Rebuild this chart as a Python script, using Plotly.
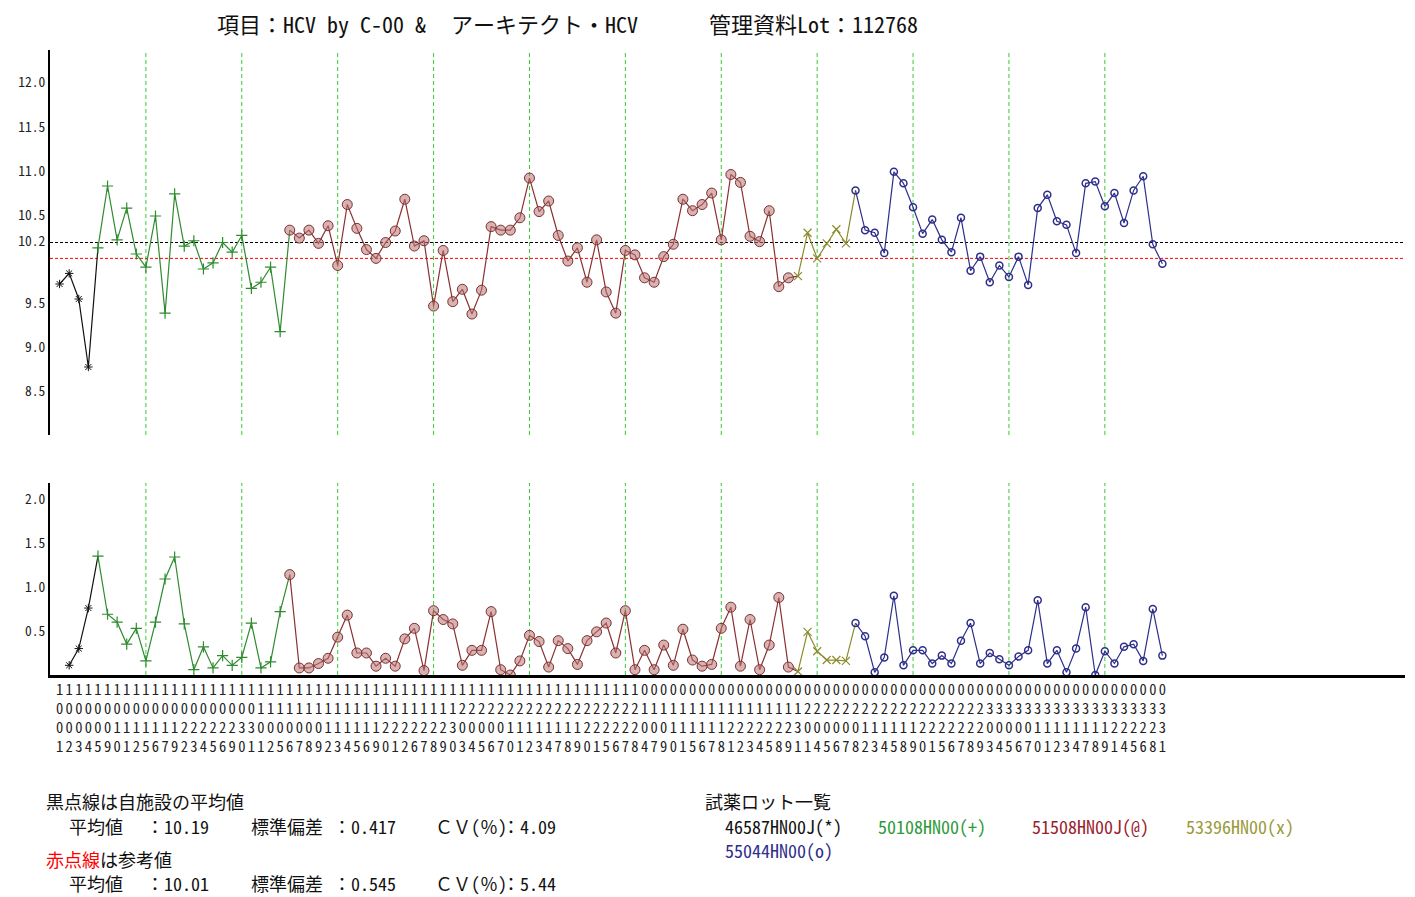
import plotly.graph_objects as go

# ---------------- data ----------------
dates = [
    "1001", "1002", "1003", "1004", "1005", "1009", "1010", "1011", "1012", "1015", "1016",
    "1017", "1019", "1022", "1023", "1024", "1025", "1026", "1029", "1030", "1031",
    "1101", "1102", "1105", "1106", "1107", "1108", "1109", "1112", "1113", "1114", "1115",
    "1116", "1119", "1120", "1121", "1122", "1126", "1127", "1128", "1129", "1130",
    "1203", "1204", "1205", "1206", "1207", "1210", "1211", "1212", "1213", "1214", "1217",
    "1218", "1219", "1220", "1221", "1225", "1226", "1227", "1228",
    "0104", "0107", "0109", "0110", "0111", "0115", "0116", "0117", "0118", "0121", "0122",
    "0123", "0124", "0125", "0128", "0129", "0131",
    "0201", "0204", "0205", "0206", "0207", "0208", "0212", "0213", "0214", "0215", "0218",
    "0219", "0220", "0221", "0225", "0226", "0227", "0228", "0229",
    "0303", "0304", "0305", "0306", "0307", "0310", "0311", "0312", "0313", "0314", "0317",
    "0318", "0319", "0321", "0324", "0325", "0326", "0328", "0331",
]

values = [
    9.72, 9.84, 9.55, 8.78, 10.13, 10.83, 10.22, 10.58, 10.06, 9.91,
    10.49, 9.39, 10.74, 10.15, 10.21, 9.89, 9.96, 10.19, 10.08, 10.27,
    9.67, 9.74, 9.91, 9.18, 10.33, 10.24, 10.33, 10.18, 10.38, 9.93,
    10.62, 10.35, 10.11, 10.01, 10.19, 10.32, 10.68, 10.15, 10.21, 9.47,
    10.10, 9.52, 9.66, 9.38, 9.65, 10.37, 10.33, 10.33, 10.47, 10.92,
    10.54, 10.66, 10.27, 9.98, 10.13, 9.74, 10.22, 9.63, 9.39, 10.10,
    10.05, 9.79, 9.74, 10.03, 10.17, 10.68, 10.55, 10.62, 10.75, 10.22,
    10.96, 10.87, 10.26, 10.20, 10.55, 9.69, 9.79, 9.81, 10.30, 10.01,
    10.18, 10.34, 10.18, 10.78, 10.33, 10.30, 10.07, 10.99, 10.86, 10.59,
    10.29, 10.45, 10.22, 10.08, 10.47, 9.87, 10.03, 9.74, 9.93, 9.80,
    10.03, 9.71, 10.58, 10.73, 10.43, 10.39, 10.07, 10.86, 10.88, 10.60,
    10.75, 10.41, 10.78, 10.94, 10.17, 9.95,
]

# moving range values, starting at the 2nd point
ranges = [
    0.11, 0.30, 0.76, 1.35, 0.69, 0.60, 0.35, 0.53, 0.16,
    0.60, 1.09, 1.34, 0.58, 0.06, 0.32, 0.08, 0.22, 0.11, 0.20,
    0.59, 0.08, 0.15, 0.72, 1.14, 0.08, 0.08, 0.13, 0.19, 0.43,
    0.68, 0.25, 0.25, 0.10, 0.19, 0.10, 0.41, 0.53, 0.05, 0.73,
    0.63, 0.58, 0.11, 0.28, 0.28, 0.72, 0.06, 0.00, 0.16, 0.45,
    0.38, 0.09, 0.39, 0.30, 0.12, 0.39, 0.49, 0.59, 0.25, 0.73,
    0.06, 0.28, 0.06, 0.34, 0.11, 0.52, 0.17, 0.10, 0.12, 0.53,
    0.77, 0.10, 0.63, 0.06, 0.34, 0.88, 0.09, 0.04, 0.49, 0.27,
    0.17, 0.17, 0.16, 0.59, 0.44, 0.03, 0.20, 0.90, 0.11, 0.28,
    0.28, 0.13, 0.22, 0.13, 0.39, 0.59, 0.13, 0.25, 0.18, 0.11,
    0.21, 0.28, 0.85, 0.13, 0.28, 0.03, 0.30, 0.77, 0.00, 0.27,
    0.13, 0.32, 0.35, 0.16, 0.75, 0.22,
]

lot_names = ["46587HN00J", "50108HN00", "51508HN00J", "53396HN00", "55044HN00"]
lot_marks = ["(*)", "(+)", "(@)", "(x)", "(o)"]
lot_first = [0, 4, 24, 77, 83]

own_mean, own_sd, own_cv = 10.19, 0.417, 4.09
ref_mean, ref_sd, ref_cv = 10.01, 0.545, 5.44

guide_idx = [9, 19, 29, 39, 49, 59, 69, 79, 89, 99, 109]
y1_ticks = [12.0, 11.5, 11.0, 10.5, 10.2, 9.5, 9.0, 8.5]
y2_ticks = [2.0, 1.5, 1.0, 0.5]

title_parts = ["項目：HCV by C-00 &", "アーキテクト・HCV", "管理資料Lot：112768"]

# ---------------- styles ----------------
FONT = "Noto Sans Mono CJK JP, Noto Sans CJK JP, sans-serif"
line_colors = ["#111111", "#2E8B2E", "#8B3030", "#8B8B2E", "#2E2E8B"]
text_colors = ["#111111", "#2E9A3A", "#9A1E2E", "#9A9A3A", "#2E2E8B"]
marker_styles = [
    dict(symbol="asterisk-open", size=7, color="#111111", line=dict(color="#111111", width=1)),
    dict(symbol="cross-thin-open", size=8, color="#2E8B2E", line=dict(color="#2E8B2E", width=1.2)),
    dict(symbol="circle", size=10, color="rgba(185,115,115,0.55)", line=dict(color="#7A3030", width=1)),
    dict(symbol="x-thin-open", size=8, color="#8B8B2E", line=dict(color="#8B8B2E", width=1.2)),
    dict(symbol="circle-open", size=7, color="#2E2E8B", line=dict(color="#2E2E8B", width=1.5)),
]

n = len(values)
idx = list(range(n))
r_idx = list(range(1, n))

fig = go.Figure()
bounds = lot_first + [n]
for k in range(len(lot_names)):
    a, b = bounds[k], bounds[k + 1]
    e = min(b + 1, n)  # line continues to first point of next lot
    fig.add_trace(go.Scatter(x=idx[a:e], y=values[a:e], mode="lines", xaxis="x", yaxis="y",
                             line=dict(color=line_colors[k], width=1.2), hoverinfo="skip",
                             showlegend=False))
    fig.add_trace(go.Scatter(x=idx[a:b], y=values[a:b], mode="markers", xaxis="x", yaxis="y",
                             marker=marker_styles[k], showlegend=False))
    ra, rb, re_ = max(a, 1) - 1, b - 1, min(b + 1, n) - 1
    fig.add_trace(go.Scatter(x=r_idx[ra:re_], y=ranges[ra:re_], mode="lines", xaxis="x", yaxis="y2",
                             line=dict(color=line_colors[k], width=1.2), hoverinfo="skip",
                             showlegend=False))
    fig.add_trace(go.Scatter(x=r_idx[ra:rb], y=ranges[ra:rb], mode="markers", xaxis="x", yaxis="y2",
                             marker=marker_styles[k], showlegend=False))

shapes = []
for g in guide_idx:
    for yr in ["y domain", "y2 domain"]:
        shapes.append(dict(type="line", xref="x", yref=yr, x0=g, x1=g, y0=0, y1=1,
                           line=dict(color="#33CC33", width=1, dash="4px,3px"), layer="below"))
shapes.append(dict(type="line", xref="x domain", yref="y", x0=0, x1=1, y0=own_mean, y1=own_mean,
                   line=dict(color="#000000", width=1, dash="3px,2px"), layer="below"))
shapes.append(dict(type="line", xref="x domain", yref="y", x0=0, x1=1, y0=ref_mean, y1=ref_mean,
                   line=dict(color="#FF0000", width=1, dash="3px,2px"), layer="below"))

# page has an 8px body margin; work in screen pixels and convert
OFF = 8
W, H = 1415 - OFF, 897 - OFF
AX_L, AX_R, AX_T, AX_B = 47, 1405, 50, 675  # plot area in screen pixels
L, T = AX_L - OFF, AX_T - OFF
R, B = W - (AX_R - OFF), H - (AX_B - OFF)
PW, PH = W - L - R, H - T - B


def px(x):
    return (x - OFF - L) / PW


def py(y):
    return (H - B - (y - OFF)) / PH


ann = []


def text(x, y, s, size=18, color="#111111"):
    ann.append(dict(x=px(x - 4), y=py(y), xref="paper", yref="paper", text=s, showarrow=False,
                    xanchor="left", yanchor="middle", borderpad=0,
                    font=dict(family=FONT, size=size, color=color)))


text(217, 23, title_parts[0], size=22)
text(452, 23, title_parts[1], size=22)
text(710, 23, title_parts[2], size=22)

text(46, 801, "黒点線は自施設の平均値")
for yy, (m, s, c) in [(826, (own_mean, own_sd, own_cv)), (883, (ref_mean, ref_sd, ref_cv))]:
    text(69, yy, "平均値")
    text(146, yy, "：%.2f" % m)
    text(251, yy, "標準偏差")
    text(334, yy, "：%.3f" % s)
    text(436, yy, "ＣＶ(％)")
    text(503, yy, "：%.2f" % c)
text(46, 859, "<span style='color:#FF0000'>赤点線</span>は参考値")

text(706, 801, "試薬ロット一覧")
lot_pos = [(726, 826), (880, 826), (1034, 826), (1189, 826), (726, 850)]
for k in range(len(lot_names)):
    text(lot_pos[k][0], lot_pos[k][1], lot_names[k] + lot_marks[k], color=text_colors[k])

ticktext = ["<br>".join(list(d)) for d in dates]

fig.update_layout(
    width=W, height=H,
    margin=dict(l=L, r=R, t=T, b=B, pad=0),
    paper_bgcolor="white", plot_bgcolor="white",
    showlegend=False,
    shapes=shapes,
    annotations=ann,
    xaxis=dict(domain=[0, 1], range=[-1.0, 140.3], anchor="y2",
               tickmode="array", tickvals=idx, ticktext=ticktext, tickangle=0,
               tickfont=dict(family=FONT, size=14.5, color="#222222"),
               showline=True, linewidth=3, linecolor="black", showgrid=False, zeroline=False,
               ticks=""),
    yaxis=dict(domain=[py(435), 1.0], range=[8.01, 12.37], anchor="x",
               tickmode="array", tickvals=y1_ticks, ticktext=["%.1f" % v for v in y1_ticks],
               tickfont=dict(family=FONT, size=13.5, color="#222222"),
               showline=True, linewidth=2, linecolor="black", showgrid=False, zeroline=False,
               ticks=""),
    yaxis2=dict(domain=[0, py(483)], range=[0, 2.18], anchor="x",
                tickmode="array", tickvals=y2_ticks, ticktext=["%.1f" % v for v in y2_ticks],
                tickfont=dict(family=FONT, size=13.5, color="#222222"),
                showline=True, linewidth=2, linecolor="black", showgrid=False, zeroline=False,
                ticks=""),
)

fig.write_html("out.html", config={"displayModeBar": False})
